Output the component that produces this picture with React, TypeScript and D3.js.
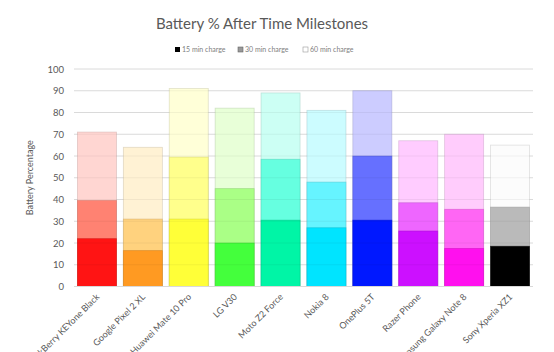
import React from "react";
import * as d3 from "d3";

const phones = [
  "BlackBerry KEYone Black",
  "Google Pixel 2 XL",
  "Huawei Mate 10 Pro",
  "LG V30",
  "Moto Z2 Force",
  "Nokia 8",
  "OnePlus 5T",
  "Razer Phone",
  "Samsung Galaxy Note 8",
  "Sony Xperia XZ1",
];
const min15 = [22, 16.5, 31, 20, 30.5, 27, 30.5, 25.5, 17.5, 18.5];
const min30 = [39.5, 31, 59.5, 45, 58.5, 48, 60, 38.5, 35.5, 36.5];
const min60 = [71, 64, 91, 82, 89, 81, 90, 67, 70, 65];
const yTicks = [0, 10, 20, 30, 40, 50, 60, 70, 80, 90, 100];
const seriesNames = ["15 min charge", "30 min charge", "60 min charge"];

const darkColors = ["#ff1414", "#ff9a22", "#ffff38", "#44ff3c", "#00f5a6", "#00e4ff", "#0018ff", "#cc10ff", "#ff10ee", "#000000"];
const midColors = ["#ff8272", "#ffd27e", "#ffff8c", "#aaff86", "#66ffe0", "#66f4ff", "#6670ff", "#ee66ff", "#ff66f4", "#bababa"];
const lightColors = ["#ffd6d2", "#fff2d4", "#ffffd8", "#e8ffd8", "#ccfff4", "#ccfcff", "#ccccff", "#ffccff", "#ffccfc", "#fcfcfc"];

const W = 554;
const H = 352;
const left = 74;
const right = 533;
const top = 69;
const bottom = 286.5;

export default function App() {
  const x = d3.scaleBand<string>().domain(phones).range([left, right]).paddingInner(0.15).paddingOuter(0.075);
  const y = d3.scaleLinear().domain([0, 100]).range([bottom, top]);
  const bw = x.bandwidth();
  const font = "Lato, 'Open Sans', sans-serif";
  const layers = [
    { vals: min60, cols: lightColors },
    { vals: min30, cols: midColors },
    { vals: min15, cols: darkColors },
  ];
  return (
    <svg width={W} height={H} style={{ position: "absolute", left: 0, top: 0, background: "#fff" }} fontFamily={font}>
      <text x={262} y={29} textAnchor="middle" fontSize={15} fill="#595959">Battery % After Time Milestones</text>
      {/* legend */}
      <g fontSize={7} fill="#808080">
        <rect x={175} y={47} width={5} height={5} fill="#000" />
        <text x={182} y={52}>{seriesNames[0]}</text>
        <rect x={238} y={47} width={5} height={5} fill="#999" stroke="#666" strokeWidth={0.6} />
        <text x={245} y={52}>{seriesNames[1]}</text>
        <rect x={303} y={47} width={5} height={5} fill="#fff" stroke="#999" strokeWidth={0.6} />
        <text x={310} y={52}>{seriesNames[2]}</text>
      </g>
      {/* gridlines */}
      {yTicks.map((t) => (
        <line key={"g" + t} x1={left} x2={right} y1={y(t)} y2={y(t)} stroke="#e6e6e6" strokeWidth={1} />
      ))}
      {/* bars */}
      {layers.map((layer, li) =>
        phones.map((p, i) => (
          <rect
            key={li + "-" + p}
            x={x(p)!}
            y={y(layer.vals[i])}
            width={bw}
            height={bottom - y(layer.vals[i])}
            fill={layer.cols[i]}
            stroke={d3.color(layer.cols[i])!.darker(0.6).formatHex()}
            strokeOpacity={0.6}
            strokeWidth={0.8}
          />
        ))
      )}
      {/* grid overlay */}
      {yTicks.slice(1).map((t) => (
        <line key={"o" + t} x1={left} x2={right} y1={y(t)} y2={y(t)} stroke="#000" strokeOpacity={0.05} strokeWidth={1} />
      ))}
      <line x1={left} x2={right} y1={bottom} y2={bottom} stroke="#d9d9d9" strokeWidth={1} />
      {/* y ticks */}
      {yTicks.map((t) => (
        <text key={"t" + t} x={64} y={y(t) + 3.5} textAnchor="end" fontSize={9.5} fill="#595959">{t}</text>
      ))}
      <text transform={`translate(33,${(top + bottom) / 2}) rotate(-90)`} textAnchor="middle" fontSize={9} fill="#595959">Battery Percentage</text>
      {/* x labels */}
      {phones.map((p) => {
        const cx = x(p)! + bw / 2 + 3;
        return (
          <text key={"x" + p} transform={`translate(${cx},${bottom + 11}) rotate(-45)`} textAnchor="end" fontSize={9} fill="#595959">{p}</text>
        );
      })}
    </svg>
  );
}
